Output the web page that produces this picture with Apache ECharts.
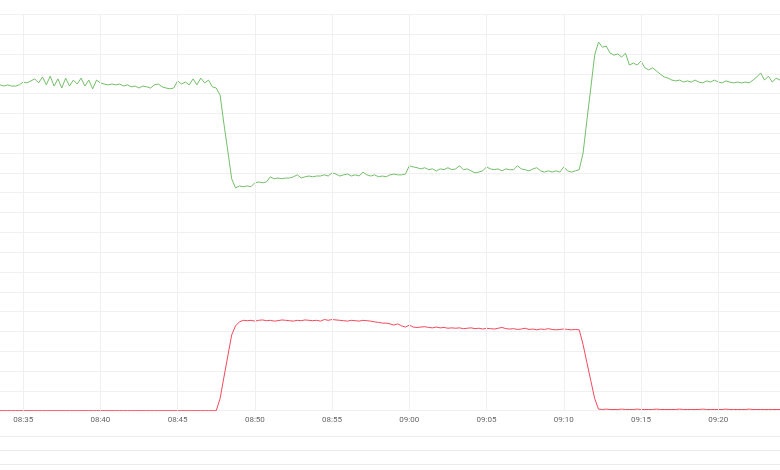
<!DOCTYPE html>
<html>
<head>
<meta charset="utf-8">
<script src="https://cdn.jsdelivr.net/npm/echarts@6/dist/echarts.min.js"></script>
<style>
html,body{margin:0;padding:0;background:#fff;}
#chart{width:780px;height:470px;}
</style>
</head>
<body>
<div id="chart"></div>
<script>
// Sample times: every 15 s starting at 08:33:30
var startTime = [8, 33, 30];
var stepSeconds = 15;

// Tick labels on the time axis
var tickLabels = ['08:35', '08:40', '08:45', '08:50', '08:55', '09:00', '09:05', '09:10', '09:15', '09:20'];

// Green series (one row = 10 samples)
var greenValues = [
  82.2, 81.9, 82.2, 81.9, 81.9, 82.2, 82.9, 82.7, 83.2, 83.7,
  82.7, 84.2, 82.2, 84.4, 81.9, 83.7, 81.4, 83.9, 81.9, 83.4,
  82.4, 83.9, 81.9, 83.4, 81.2, 83.4, 82.7, 82.4, 82.2, 82.4,
  82.2, 82.4, 81.9, 82.2, 81.7, 81.9, 81.4, 81.9, 81.7, 81.4,
  82.2, 82.4, 81.7, 81.4, 81.2, 81.4, 83.2, 82.4, 82.9, 82.2,
  83.7, 82.2, 83.9, 82.7, 83.4, 81.7, 81.4, 79.6, 72.3, 65.5,
  58.5, 56.2, 56.7, 56.5, 56.7, 56.5, 57.5, 57.7, 57.5, 57.7,
  59.0, 58.5, 58.7, 58.5, 58.7, 58.7, 59.0, 59.5, 58.7, 59.0,
  59.2, 59.0, 59.2, 59.2, 59.5, 59.2, 60.0, 59.7, 59.2, 59.5,
  59.7, 59.2, 59.5, 59.2, 60.2, 59.5, 59.2, 59.5, 59.0, 59.2,
  59.0, 59.5, 59.7, 59.5, 59.5, 59.7, 61.8, 61.5, 61.3, 61.0,
  61.3, 60.8, 61.0, 60.5, 61.0, 60.8, 61.3, 60.8, 61.0, 61.8,
  60.8, 61.0, 60.5, 60.0, 60.2, 60.5, 61.5, 61.0, 60.8, 61.0,
  60.5, 61.0, 60.8, 60.8, 61.8, 61.0, 60.8, 60.5, 61.0, 61.3,
  60.5, 60.2, 60.5, 60.2, 60.5, 60.2, 61.5, 60.5, 60.2, 60.5,
  60.8, 65.0, 73.3, 81.4, 89.7, 93.0, 91.7, 92.0, 90.2, 89.7,
  90.0, 89.2, 90.2, 87.2, 87.7, 87.2, 88.2, 86.5, 86.0, 86.5,
  85.7, 84.9, 84.2, 83.9, 83.4, 83.2, 83.4, 82.9, 83.2, 82.9,
  83.4, 82.9, 82.7, 83.2, 82.9, 83.4, 82.9, 82.7, 83.2, 82.9,
  82.7, 82.9, 82.7, 82.9, 82.7, 83.4, 84.2, 85.2, 83.4, 84.4,
  82.9, 83.9, 83.4
];

// Red series (one row = 10 samples)
var redValues = [
  0, 0, 0, 0, 0, 0, 0, 0, 0, 0,
  0, 0, 0, 0, 0, 0, 0, 0, 0, 0,
  0, 0, 0, 0, 0, 0, 0, 0, 0, 0,
  0, 0, 0, 0, 0, 0, 0, 0, 0, 0,
  0, 0, 0, 0, 0, 0, 0, 0, 0, 0,
  0, 0, 0, 0, 0, 0, 0, 3.1, 8.5, 13.8,
  19.1, 21.4, 22.4, 22.8, 22.7, 22.8, 22.6, 22.8, 22.9, 22.7,
  22.8, 22.6, 22.7, 22.9, 22.8, 22.7, 22.6, 22.8, 22.7, 22.9,
  22.8, 22.7, 22.8, 22.6, 23.0, 22.8, 23.0, 22.9, 22.8, 22.7,
  22.6, 22.8, 22.7, 22.6, 22.8, 22.7, 22.6, 22.4, 22.3, 22.1,
  22.1, 21.9, 21.6, 21.9, 21.4, 21.1, 21.6, 21.1, 21.0, 21.1,
  21.2, 21.0, 20.9, 21.1, 20.9, 21.0, 20.8, 20.9, 20.8, 20.9,
  20.7, 20.8, 20.9, 20.7, 20.8, 20.6, 20.8, 20.7, 20.6, 20.8,
  21.0, 20.7, 20.6, 20.7, 20.5, 20.6, 20.8, 20.5, 20.6, 20.4,
  20.6, 20.5, 20.7, 20.5, 20.4, 20.5, 20.6, 20.5, 20.4, 20.5,
  20.4, 16.7, 12.1, 7.6, 3.1, 0.4, 0.3, 0.4, 0.3, 0.3,
  0.3, 0.4, 0.3, 0.3, 0.3, 0.4, 0.3, 0.3, 0.3, 0.3,
  0.4, 0.3, 0.3, 0.3, 0.3, 0.3, 0.4, 0.3, 0.3, 0.3,
  0.3, 0.3, 0.4, 0.3, 0.3, 0.3, 0.3, 0.3, 0.4, 0.3,
  0.3, 0.3, 0.3, 0.3, 0.4, 0.3, 0.3, 0.3, 0.3, 0.3,
  0.3, 0.3, 0.3
];

function hm(h, m, s) { return new Date(2024, 0, 1, h, m, s || 0).getTime(); }
var axisStart = hm(8, 33, 30);
var axisEnd = hm(9, 24, 0);
var t0 = hm(startTime[0], startTime[1], startTime[2]);
var tickTimes = tickLabels.map(function (s) {
  var p = s.split(':');
  return hm(+p[0], +p[1], 0);
});

function toPairs(vals) {
  return vals.map(function (v, i) { return [t0 + i * stepSeconds * 1000, v]; });
}
function pad(n) { return (n < 10 ? '0' : '') + n; }

var chart = echarts.init(document.getElementById('chart'), null, { renderer: 'canvas' });
var gridColor = '#f0f0f0';
chart.setOption({
  animation: false,
  backgroundColor: '#ffffff',
  grid: { left: 0, right: 0, top: 14.3, bottom: 59.3, containLabel: false },
  xAxis: {
    type: 'value',
    min: axisStart,
    max: axisEnd,
    scale: true,
    axisLine: { show: false },
    axisTick: { show: false, customValues: tickTimes },
    splitLine: { show: false },
    axisLabel: {
      customValues: tickTimes,
      color: '#666',
      fontSize: 8,
      fontFamily: 'Roboto, sans-serif',
      margin: 5,
      formatter: function (val) {
        var d = new Date(val);
        return pad(d.getHours()) + ':' + pad(d.getMinutes());
      }
    }
  },
  yAxis: {
    type: 'value',
    min: 0,
    max: 100,
    interval: 5,
    axisLine: { show: false },
    axisTick: { show: false },
    axisLabel: { show: false },
    splitLine: { show: true, lineStyle: { color: gridColor, width: 1 } }
  },
  series: [
    {
      name: 'vgrid',
      type: 'line',
      data: [],
      z: 0,
      silent: true,
      markLine: {
        silent: true,
        symbol: ['none', 'none'],
        label: { show: false },
        lineStyle: { color: gridColor, width: 1, type: 'solid' },
        emphasis: { disabled: true },
        data: tickTimes.map(function (t) { return { xAxis: t }; })
      }
    },
    {
      name: 'green',
      type: 'line',
      data: toPairs(greenValues),
      showSymbol: false,
      symbol: 'none',
      z: 3,
      lineStyle: { color: '#73bf69', width: 1 },
      itemStyle: { color: '#73bf69' }
    },
    {
      name: 'red',
      type: 'line',
      data: toPairs(redValues),
      showSymbol: false,
      symbol: 'none',
      z: 3,
      lineStyle: { color: '#f2495c', width: 1 },
      itemStyle: { color: '#f2495c' }
    }
  ],
  graphic: [
    { type: 'line', shape: { x1: 0, y1: 436.5, x2: 780, y2: 436.5 }, style: { stroke: '#ececec', lineWidth: 1 } },
    { type: 'line', shape: { x1: 0, y1: 450.5, x2: 780, y2: 450.5 }, style: { stroke: '#ececec', lineWidth: 1 } },
    { type: 'line', shape: { x1: 0, y1: 464.5, x2: 780, y2: 464.5 }, style: { stroke: '#ececec', lineWidth: 1 } }
  ]
});
</script>
</body>
</html>
